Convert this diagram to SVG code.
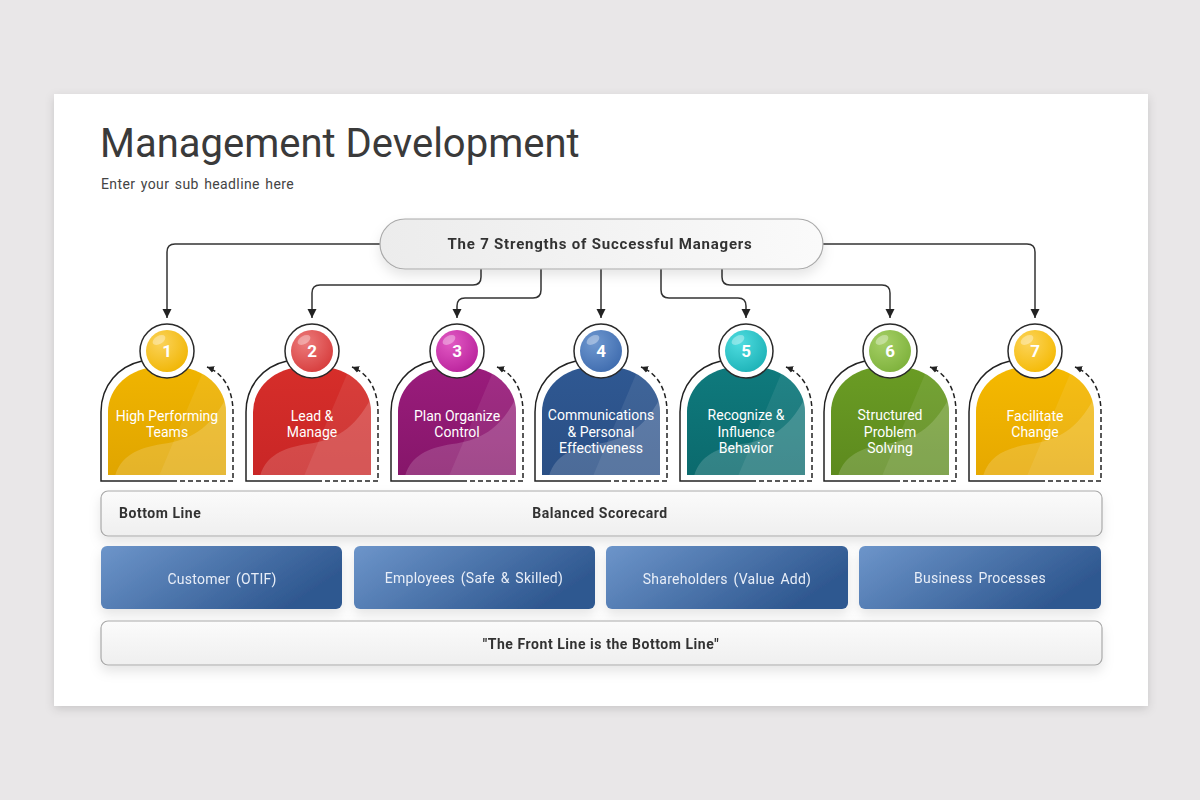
<svg xmlns="http://www.w3.org/2000/svg" width="1200" height="800" viewBox="0 0 1200 800">
<defs>
<style>
.t{font-family:Roboto,"Liberation Sans",Arial,sans-serif}
.title{font-size:40px;fill:#3a3a3a}
.sub{font-size:14px;fill:#444;letter-spacing:0.4px;word-spacing:1.5px}
.hb{font-size:15px;font-weight:700;fill:#333;letter-spacing:0.8px}
.bb{font-size:14px;font-weight:700;fill:#333;letter-spacing:0.55px}
.ct{font-size:14px;fill:#ffffff;text-anchor:middle}
.num{font-size:17px;font-weight:700;fill:#ffffff;text-anchor:middle}
.bt{font-size:14px;fill:#e8eef8;text-anchor:middle;word-spacing:2px;letter-spacing:0.25px}
.conn{fill:none;stroke:#333;stroke-width:1.5}
.sol{fill:none;stroke:#222;stroke-width:1.5}
.dash{fill:none;stroke:#222;stroke-width:1.5;stroke-dasharray:5 3}
.ring{fill:#fff;stroke:#2a2a2a;stroke-width:1.5}
.bar{fill:url(#barG);stroke:#a9a9a9;stroke-width:1.2}
</style>
<marker id="ah" markerUnits="userSpaceOnUse" markerWidth="10" markerHeight="10" refX="9" refY="5" orient="auto">
<path d="M0,0.5 L9,5 L0,9.5 z" fill="#222"/>
</marker>
<marker id="ah2" markerUnits="userSpaceOnUse" markerWidth="9" markerHeight="9" refX="7" refY="4" orient="auto">
<path d="M0,0.5 L7,4 L0,7.5 z" fill="#222"/>
</marker>
<filter id="sh" x="-5%" y="-5%" width="110%" height="115%">
<feDropShadow dx="0" dy="3" stdDeviation="5" flood-color="#000" flood-opacity="0.14"/>
</filter>
<filter id="sh2" x="-5%" y="-30%" width="110%" height="180%">
<feDropShadow dx="0" dy="6" stdDeviation="6" flood-color="#000" flood-opacity="0.10"/>
</filter>
<linearGradient id="barG" x1="0" y1="0" x2="0" y2="1">
<stop offset="0" stop-color="#fbfbfb"/><stop offset="1" stop-color="#efefef"/>
</linearGradient>
<linearGradient id="pillG" x1="0" y1="0" x2="1" y2="0">
<stop offset="0" stop-color="#ececec"/><stop offset="1" stop-color="#fafafa"/>
</linearGradient>
<linearGradient id="blueG" x1="0" y1="0" x2="1" y2="0.4">
<stop offset="0" stop-color="#6d95ca"/><stop offset="1" stop-color="#2f5890"/>
</linearGradient>
<linearGradient id="g1" x1="0" y1="0" x2="0" y2="1"><stop offset="0" stop-color="#f0b400"/><stop offset="1" stop-color="#e0a500"/></linearGradient>
<linearGradient id="g2" x1="0" y1="0" x2="0" y2="1"><stop offset="0" stop-color="#d62e2a"/><stop offset="1" stop-color="#c92626"/></linearGradient>
<linearGradient id="g3" x1="0" y1="0" x2="0" y2="1"><stop offset="0" stop-color="#9a1c7c"/><stop offset="1" stop-color="#86166a"/></linearGradient>
<linearGradient id="g4" x1="0" y1="0" x2="0" y2="1"><stop offset="0" stop-color="#2f5892"/><stop offset="1" stop-color="#2a4f85"/></linearGradient>
<linearGradient id="g5" x1="0" y1="0" x2="0" y2="1"><stop offset="0" stop-color="#0f7a7d"/><stop offset="1" stop-color="#0b6a6d"/></linearGradient>
<linearGradient id="g6" x1="0" y1="0" x2="0" y2="1"><stop offset="0" stop-color="#6a9c24"/><stop offset="1" stop-color="#5d8a1e"/></linearGradient>
<linearGradient id="g7" x1="0" y1="0" x2="0" y2="1"><stop offset="0" stop-color="#f5b900"/><stop offset="1" stop-color="#e6a800"/></linearGradient>
<radialGradient id="n1" cx="0.35" cy="0.3" r="0.8"><stop offset="0" stop-color="#fbd35a"/><stop offset="1" stop-color="#f0b400"/></radialGradient>
<radialGradient id="n2" cx="0.35" cy="0.3" r="0.8"><stop offset="0" stop-color="#ec7b7b"/><stop offset="1" stop-color="#d63a3a"/></radialGradient>
<radialGradient id="n3" cx="0.35" cy="0.3" r="0.8"><stop offset="0" stop-color="#e25ac4"/><stop offset="1" stop-color="#b8209a"/></radialGradient>
<radialGradient id="n4" cx="0.35" cy="0.3" r="0.8"><stop offset="0" stop-color="#6f98d0"/><stop offset="1" stop-color="#3d6aad"/></radialGradient>
<radialGradient id="n5" cx="0.35" cy="0.3" r="0.8"><stop offset="0" stop-color="#4fdde0"/><stop offset="1" stop-color="#1bb0b5"/></radialGradient>
<radialGradient id="n6" cx="0.35" cy="0.3" r="0.8"><stop offset="0" stop-color="#a6d066"/><stop offset="1" stop-color="#7cb03a"/></radialGradient>
<radialGradient id="n7" cx="0.35" cy="0.3" r="0.8"><stop offset="0" stop-color="#fcd45a"/><stop offset="1" stop-color="#f4b800"/></radialGradient>
<path id="shape" d="M-59,475 V412 A50,45 0 0 1 -9,367 H9 A50,45 0 0 1 59,412 V475 Z"/>
<clipPath id="clipS"><path d="M-59,475 V412 A50,45 0 0 1 -9,367 H9 A50,45 0 0 1 59,412 V475 Z"/></clipPath>
<g id="deco">
<g clip-path="url(#clipS)">
<path d="M38,367 L70,367 L70,476 L-8,476 Z" fill="#fff" opacity="0.08"/>
<path d="M-52,476 C-46,456 -30,448 -5,444 C25,440 45,428 62,392 V476 Z" fill="#fff" opacity="0.16"/>
</g>
<path class="sol" d="M-25,361 C-48,366 -66,385 -66,412 V481 H5"/>
<path class="dash" d="M5,481 H66 V412 C66,392 58,374 40,367" marker-end="url(#ah2)"/>
<circle class="ring" cx="0" cy="351" r="27"/>
</g>
<g id="gloss">
<ellipse cx="-8" cy="340" rx="7" ry="4" fill="#fff" opacity="0.35" transform="rotate(-30 -8 340)"/>
</g>
</defs>

<rect x="0" y="0" width="1200" height="800" fill="#e9e7e8"/>
<rect x="54" y="94" width="1094" height="612" fill="#ffffff" filter="url(#sh)"/>

<g id="header">
<text class="t title" x="100" y="157">Management Development</text>
<text class="t sub" x="101" y="189">Enter your sub headline here</text>
</g>

<g id="connectors">
<path class="conn" d="M380,244 H175 Q167,244 167,252 V318" marker-end="url(#ah)"/>
<path class="conn" d="M481,269 V277 Q481,285 473,285 H320 Q312,285 312,293 V318" marker-end="url(#ah)"/>
<path class="conn" d="M541,269 V290 Q541,298 533,298 H465 Q457,298 457,306 V318" marker-end="url(#ah)"/>
<path class="conn" d="M601,269 V318" marker-end="url(#ah)"/>
<path class="conn" d="M661,269 V290 Q661,298 669,298 H738 Q746,298 746,306 V318" marker-end="url(#ah)"/>
<path class="conn" d="M722,269 V277 Q722,285 730,285 H882 Q890,285 890,293 V318" marker-end="url(#ah)"/>
<path class="conn" d="M823,244 H1027 Q1035,244 1035,252 V318" marker-end="url(#ah)"/>
</g>

<g id="hub" filter="url(#sh2)">
<rect x="380" y="219" width="443" height="50" rx="25" fill="url(#pillG)" stroke="#aaa" stroke-width="1.2"/>
<text class="t hb" x="600" y="249" text-anchor="middle">The 7 Strengths of Successful Managers</text>
</g>

<g id="card1" transform="translate(167,0)">
<use href="#shape" fill="url(#g1)"/><use href="#deco"/>
<circle cx="0" cy="351" r="21" fill="url(#n1)"/><use href="#gloss"/>
<text class="t num" x="0" y="357">1</text>
<text class="t ct" x="0" y="421">High Performing</text>
<text class="t ct" x="0" y="437">Teams</text>
</g>
<g id="card2" transform="translate(312,0)">
<use href="#shape" fill="url(#g2)"/><use href="#deco"/>
<circle cx="0" cy="351" r="21" fill="url(#n2)"/><use href="#gloss"/>
<text class="t num" x="0" y="357">2</text>
<text class="t ct" x="0" y="421">Lead &amp;</text>
<text class="t ct" x="0" y="437">Manage</text>
</g>
<g id="card3" transform="translate(457,0)">
<use href="#shape" fill="url(#g3)"/><use href="#deco"/>
<circle cx="0" cy="351" r="21" fill="url(#n3)"/><use href="#gloss"/>
<text class="t num" x="0" y="357">3</text>
<text class="t ct" x="0" y="421">Plan Organize</text>
<text class="t ct" x="0" y="437">Control</text>
</g>
<g id="card4" transform="translate(601,0)">
<use href="#shape" fill="url(#g4)"/><use href="#deco"/>
<circle cx="0" cy="351" r="21" fill="url(#n4)"/><use href="#gloss"/>
<text class="t num" x="0" y="357">4</text>
<text class="t ct" x="0" y="420">Communications</text>
<text class="t ct" x="0" y="437">&amp; Personal</text>
<text class="t ct" x="0" y="453">Effectiveness</text>
</g>
<g id="card5" transform="translate(746,0)">
<use href="#shape" fill="url(#g5)"/><use href="#deco"/>
<circle cx="0" cy="351" r="21" fill="url(#n5)"/><use href="#gloss"/>
<text class="t num" x="0" y="357">5</text>
<text class="t ct" x="0" y="420">Recognize &amp;</text>
<text class="t ct" x="0" y="437">Influence</text>
<text class="t ct" x="0" y="453">Behavior</text>
</g>
<g id="card6" transform="translate(890,0)">
<use href="#shape" fill="url(#g6)"/><use href="#deco"/>
<circle cx="0" cy="351" r="21" fill="url(#n6)"/><use href="#gloss"/>
<text class="t num" x="0" y="357">6</text>
<text class="t ct" x="0" y="420">Structured</text>
<text class="t ct" x="0" y="437">Problem</text>
<text class="t ct" x="0" y="453">Solving</text>
</g>
<g id="card7" transform="translate(1035,0)">
<use href="#shape" fill="url(#g7)"/><use href="#deco"/>
<circle cx="0" cy="351" r="21" fill="url(#n7)"/><use href="#gloss"/>
<text class="t num" x="0" y="357">7</text>
<text class="t ct" x="0" y="421">Facilitate</text>
<text class="t ct" x="0" y="437">Change</text>
</g>

<g id="scorecard" filter="url(#sh2)">
<rect class="bar" x="101" y="491" width="1001" height="45" rx="7"/>
<text class="t bb" x="119" y="518">Bottom Line</text>
<text class="t bb" x="600" y="518" text-anchor="middle">Balanced Scorecard</text>
</g>

<g id="box-customer" filter="url(#sh2)">
<rect x="101" y="546" width="241" height="63" rx="6" fill="url(#blueG)"/>
<text class="t bt" x="222" y="584">Customer (OTIF)</text>
</g>
<g id="box-employees" filter="url(#sh2)">
<rect x="354" y="546" width="241" height="63" rx="6" fill="url(#blueG)"/>
<text class="t bt" x="474" y="583">Employees (Safe &amp; Skilled)</text>
</g>
<g id="box-shareholders" filter="url(#sh2)">
<rect x="606" y="546" width="242" height="63" rx="6" fill="url(#blueG)"/>
<text class="t bt" x="727" y="584">Shareholders (Value Add)</text>
</g>
<g id="box-business" filter="url(#sh2)">
<rect x="859" y="546" width="242" height="63" rx="6" fill="url(#blueG)"/>
<text class="t bt" x="980" y="583">Business Processes</text>
</g>

<g id="frontline" filter="url(#sh2)">
<rect class="bar" x="101" y="621" width="1001" height="44" rx="7"/>
<text class="t bb" x="601" y="649" text-anchor="middle">"The Front Line is the Bottom Line"</text>
</g>
</svg>
